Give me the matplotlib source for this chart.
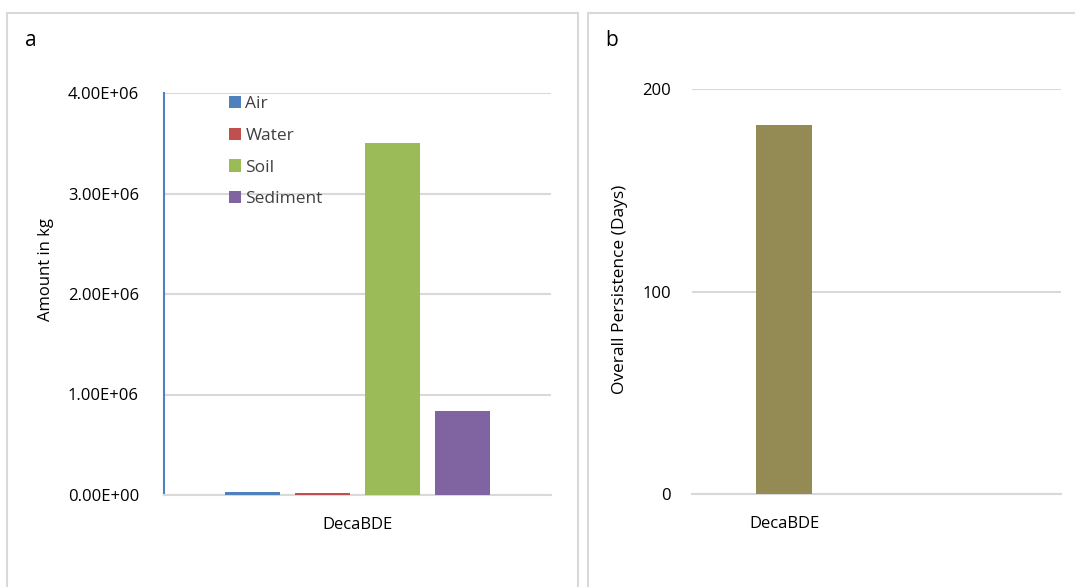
import matplotlib.pyplot as plt
from matplotlib.patches import Rectangle

plt.rcParams['font.family'] = ['Open Sans', 'DejaVu Sans']

# data
compartments = ['Air', 'Water', 'Soil', 'Sediment']
amount_kg = [2.5e4, 2.2e4, 3.50e6, 8.35e5]
comp_colors = ['#4F81BD', '#C0504D', '#9BBB59', '#8064A2']
chemical = 'DecaBDE'
persistence_days = [182]
a_ticks = [0, 1e6, 2e6, 3e6, 4e6]
b_ticks = [0, 100, 200]

grid_c = '#D9D9D9'
txt_c = '#404040'

fig = plt.figure(figsize=(10.75, 5.87), dpi=100)

# panel frames
for x0, w in [(7, 571), (588, 490)]:
    fig.add_artist(Rectangle((x0 / 1075, -0.05), w / 1075, 1 - 13 / 587 + 0.05,
                             transform=fig.transFigure, fill=False,
                             edgecolor=grid_c, lw=1.5))

# panel a
ax = fig.add_axes([164 / 1075, 1 - 495 / 587, 387 / 1075, 402 / 587])
step = 70 / 387
bw = 55 / 387
for i, (name, v, c) in enumerate(zip(compartments, amount_kg, comp_colors)):
    ax.bar((i - 1.5) * step, v, width=bw, color=c, label=name, zorder=3)
ax.set_xlim(-0.5, 0.5)
ax.set_ylim(0, 4e6)
ax.set_yticks(a_ticks)
ax.set_yticklabels(['%.2E' % t for t in a_ticks])
ax.set_xticks([0])
ax.set_xticklabels([chemical])
ax.grid(axis='y', color=grid_c, lw=1.5, zorder=0)
for s in ['top', 'right']:
    ax.spines[s].set_visible(False)
ax.spines['left'].set_color('#4F81BD')
ax.spines['left'].set_linewidth(1.5)
ax.spines['bottom'].set_color(grid_c)
ax.spines['bottom'].set_linewidth(1.5)
ax.tick_params(length=0, labelsize=12, labelcolor='black')
ax.tick_params(axis='y', pad=18)
ax.tick_params(axis='x', pad=16)
ax.set_ylabel('Amount in kg', fontsize=12)
ax.yaxis.set_label_coords(-0.285, 0.56)
leg = ax.legend(loc='upper left', bbox_to_anchor=(0.15, 1.01), frameon=False,
                fontsize=12.5, handlelength=0.7, handleheight=0.7,
                handletextpad=0.25, labelspacing=0.9, borderaxespad=0)
for t in leg.get_texts():
    t.set_color(txt_c)
fig.text(25 / 1075, 1 - 40 / 587, 'a', fontsize=15, va='center', ha='left')

# panel b
bx = fig.add_axes([692 / 1075, 1 - 494 / 587, 369 / 1075, 405 / 587])
bx.bar([0], persistence_days, width=56 / 184.5, color='#948A54', zorder=3)
bx.set_xlim(-0.5, 1.5)
bx.set_ylim(0, 200)
bx.set_yticks(b_ticks)
bx.set_xticks([0])
bx.set_xticklabels([chemical])
bx.grid(axis='y', color=grid_c, lw=1.5, zorder=0)
for s in ['top', 'right', 'left']:
    bx.spines[s].set_visible(False)
bx.spines['bottom'].set_color(grid_c)
bx.spines['bottom'].set_linewidth(1.5)
bx.tick_params(length=0, labelsize=12)
bx.tick_params(axis='y', pad=15)
bx.tick_params(axis='x', pad=16)
bx.set_ylabel('Overall Persistence (Days)', fontsize=12.5)
bx.yaxis.set_label_coords(-0.173, 0.505)
fig.text(605 / 1075, 1 - 40 / 587, 'b', fontsize=15, va='center', ha='left')

fig.savefig('out.png', dpi=100)
